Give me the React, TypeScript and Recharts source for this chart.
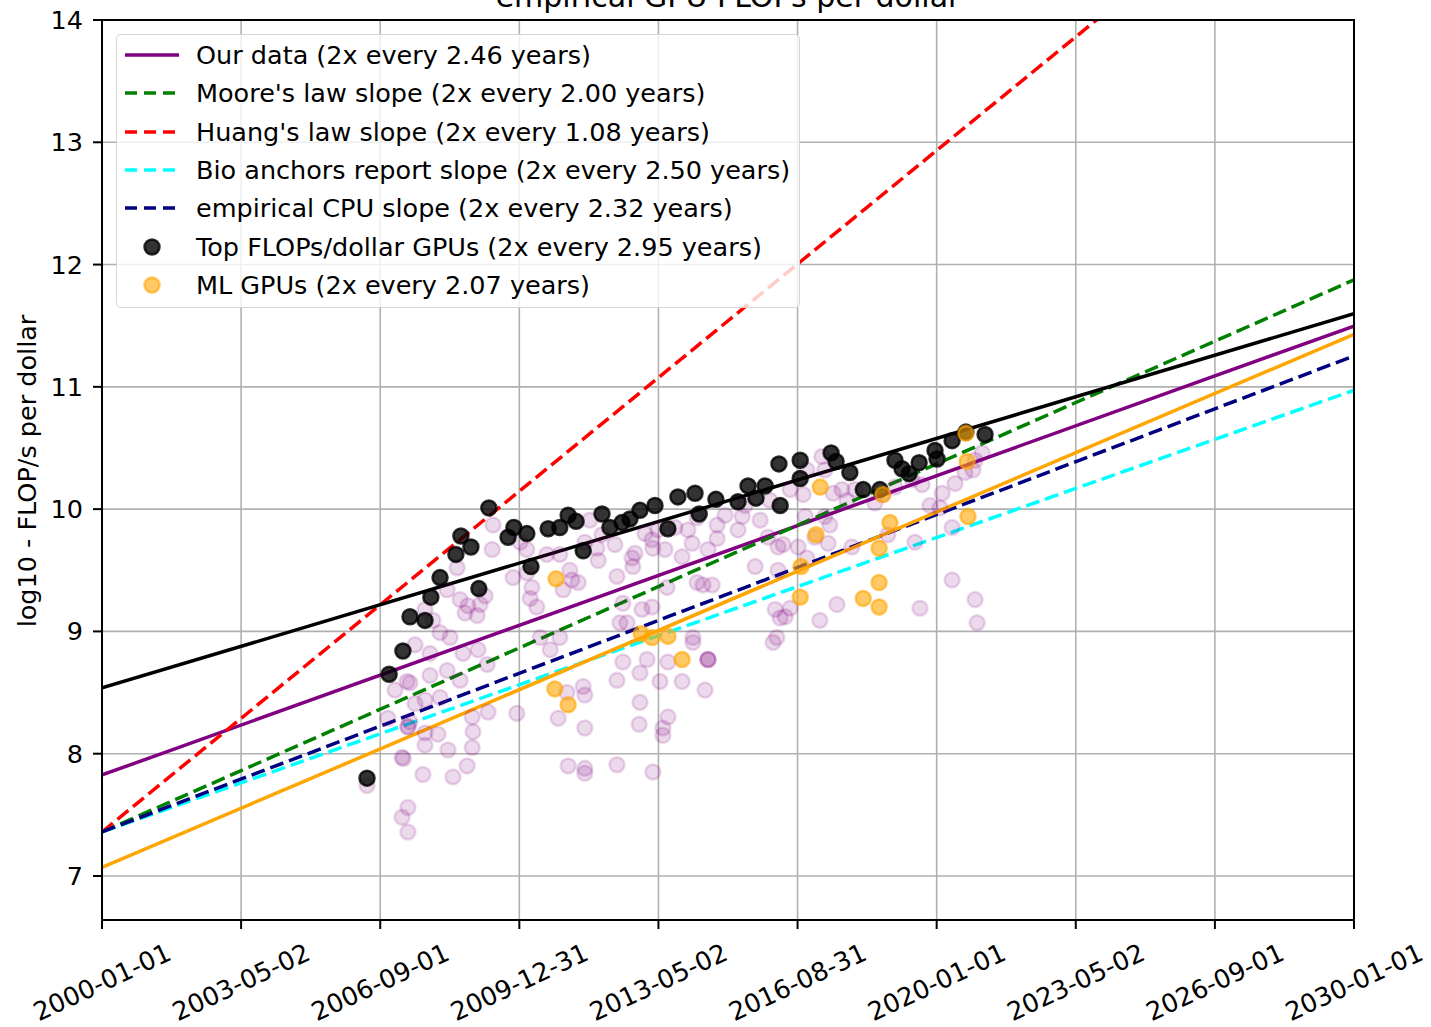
import { ComposedChart, Line, Scatter, XAxis, YAxis, CartesianGrid } from 'recharts';

// x values are decimal years, y values are log10(FLOP/s per dollar)
const xTicks = [2000, 2003.333, 2006.667, 2010, 2013.333, 2016.667, 2020, 2023.333, 2026.667, 2030];
const xTickLabels = [
  '2000-01-01', '2003-05-02', '2006-09-01', '2009-12-31', '2013-05-02',
  '2016-08-31', '2020-01-01', '2023-05-02', '2026-09-01', '2030-01-01',
];
const yTicks = [7, 8, 9, 10, 11, 12, 13, 14];

// trend lines: value at 2000 and at 2030
const ourDataFit = [[2000, 7.826], [2030, 11.497]];
const mooreFit = [[2000, 7.36], [2030, 11.875]];
const huangFit = [[2000, 7.36], [2030, 15.72]];
const bioAnchorsFit = [[2000, 7.36], [2030, 10.972]];
const cpuFit = [[2000, 7.36], [2030, 11.253]];
const topGpuFit = [[2000, 8.538], [2030, 11.599]];
const mlGpuFit = [[2000, 7.07], [2030, 11.43]];

// all GPUs (our data)
const allGpus = [
  [2006.35, 7.74], [2007.33, 7.36], [2007.19, 7.48], [2007.33, 7.56], [2007.19, 7.97], [2007.22, 7.96],
  [2007.69, 7.83], [2008.41, 7.81], [2008.75, 7.9], [2008.29, 8.03], [2008.87, 8.05], [2008.05, 8.16],
  [2007.74, 8.07], [2007.74, 8.17], [2008.89, 8.18], [2008.87, 8.3], [2009.25, 8.34], [2009.94, 8.33],
  [2010.93, 8.29], [2006.85, 8.29], [2007.38, 8.26], [2007.33, 8.22], [2007.33, 8.22], [2007.74, 8.44],
  [2008.1, 8.46], [2007.5, 8.41], [2007.38, 8.58], [2007.86, 8.64], [2008.27, 8.68], [2008.58, 8.6],
  [2009.23, 8.73], [2008.65, 8.82], [2007.31, 8.59], [2007.02, 8.52],
  [2009.37, 9.87], [2009.35, 9.67], [2008.51, 9.52], [2008.27, 9.34], [2008.58, 9.26], [2008.77, 9.21],
  [2009.06, 9.22], [2008.7, 9.15], [2008.99, 9.13], [2008.1, 8.99], [2008.34, 8.95], [2007.5, 8.89],
  [2007.86, 8.82], [2009.01, 8.85], [2009.85, 9.44], [2010.18, 9.48], [2010.3, 9.36], [2010.26, 9.27],
  [2010.42, 9.2], [2010.18, 9.67], [2010.02, 9.73], [2010.66, 9.63], [2010.97, 9.63], [2010.5, 8.95],
  [2010.74, 8.85], [2010.97, 8.95], [2011.05, 9.34], [2007.74, 9.18], [2007.93, 9.09], [2009.18, 9.29],
  [2011.21, 9.5], [2011.26, 9.42], [2011.41, 9.4], [2011.89, 9.58], [2012.34, 9.45], [2012.7, 9.6],
  [2012.72, 9.53], [2012.77, 9.64], [2013.18, 9.75], [2013.2, 9.68], [2013.49, 9.67], [2013.9, 9.61],
  [2014.14, 9.72], [2014.52, 9.67], [2014.74, 9.76], [2015.24, 9.83], [2015.34, 9.94], [2015.65, 9.53],
  [2015.96, 9.77], [2016.2, 9.69], [2016.37, 9.12], [2016.13, 9.18], [2014.26, 9.4], [2014.4, 9.38],
  [2014.62, 9.38], [2013.54, 9.36], [2012.48, 9.23], [2012.94, 9.18], [2013.18, 9.2], [2012.41, 9.07],
  [2012.58, 9.07], [2014.16, 8.95], [2014.74, 9.87], [2014.26, 9.93], [2013.73, 9.85], [2014.04, 9.83],
  [2013.32, 9.83], [2013.01, 9.8], [2011.86, 9.68], [2011.98, 9.79], [2011.57, 9.73],
  [2012.48, 8.75], [2012.89, 8.66], [2013.06, 8.77], [2013.56, 8.75], [2013.37, 8.59], [2013.9, 8.59],
  [2014.45, 8.52], [2012.34, 8.6], [2011.53, 8.55], [2011.57, 8.48], [2011.14, 8.5], [2012.89, 8.42],
  [2011.57, 8.21], [2012.87, 8.24], [2013.56, 8.3], [2013.44, 8.21], [2013.44, 8.15], [2011.17, 7.9],
  [2011.57, 7.88], [2011.57, 7.84], [2012.34, 7.91], [2013.2, 7.85], [2016.08, 8.91], [2014.16, 8.91],
  [2014.52, 8.77], [2014.52, 8.77], [2014.52, 8.77],
  [2017.25, 10.43], [2017.32, 10.32], [2016.89, 10.32], [2016.49, 10.16], [2016.8, 10.12], [2017.52, 10.13],
  [2017.73, 10.16], [2017.85, 10.07], [2018.04, 10.16], [2018.52, 10.05], [2018.71, 10.12], [2019.0, 10.18],
  [2019.41, 10.24], [2019.65, 10.2], [2020.13, 10.13], [2020.44, 10.21], [2020.87, 10.32], [2021.09, 10.46],
  [2020.92, 10.4], [2020.68, 10.3], [2019.84, 10.03], [2020.08, 10.01], [2020.37, 9.85], [2017.32, 9.94],
  [2017.44, 9.87], [2016.85, 9.94], [2016.32, 9.71], [2016.68, 9.69], [2017.08, 9.77], [2017.4, 9.72],
  [2017.97, 9.69], [2018.83, 9.79], [2019.48, 9.73], [2020.37, 9.42], [2017.61, 9.22], [2019.6, 9.19],
  [2020.92, 9.26], [2016.2, 9.5], [2016.89, 9.6], [2017.2, 9.09], [2016.25, 9.11], [2016.17, 8.95],
  [2020.97, 9.07], [2016.49, 9.19],
  [2014.93, 9.95], [2015.41, 10.03], [2015.77, 9.91], [2016.01, 10.07], [2011.69, 9.91], [2012.29, 9.71],
];

// top FLOPs/dollar GPUs
const topGpus = [
  [2006.35, 7.8], [2006.88, 8.65], [2007.21, 8.84], [2007.38, 9.12], [2007.74, 9.09], [2007.88, 9.28],
  [2008.1, 9.44], [2008.48, 9.63], [2008.6, 9.78], [2008.84, 9.69], [2009.03, 9.35], [2009.27, 10.01],
  [2009.73, 9.77], [2009.87, 9.85], [2010.18, 9.8], [2010.28, 9.53], [2010.69, 9.84], [2010.97, 9.85],
  [2011.17, 9.95], [2011.36, 9.9], [2011.53, 9.66], [2011.98, 9.96], [2012.17, 9.85], [2012.46, 9.89],
  [2012.65, 9.92], [2012.89, 9.99], [2013.25, 10.03], [2013.56, 9.84], [2013.8, 10.1], [2014.21, 10.13],
  [2014.31, 9.96], [2014.71, 10.08], [2015.24, 10.06], [2015.48, 10.19], [2015.67, 10.09], [2015.89, 10.19],
  [2016.22, 10.37], [2016.25, 10.03], [2016.73, 10.4], [2016.73, 10.25], [2017.47, 10.46], [2017.59, 10.39],
  [2017.92, 10.3], [2018.24, 10.16], [2018.64, 10.16], [2019.0, 10.4], [2019.17, 10.33], [2019.34, 10.29],
  [2019.58, 10.38], [2019.96, 10.48], [2020.01, 10.41], [2020.37, 10.56], [2020.7, 10.63], [2021.16, 10.61],
];

// ML GPUs
const mlGpus = [
  [2010.88, 9.43], [2010.85, 8.53], [2011.17, 8.4], [2012.92, 8.98], [2013.18, 8.95], [2013.56, 8.96],
  [2013.9, 8.77], [2016.75, 9.53], [2016.73, 9.28], [2017.11, 9.79], [2017.21, 10.18], [2018.24, 9.27],
  [2018.62, 9.4], [2018.62, 9.2], [2018.62, 9.68], [2018.71, 10.12], [2018.88, 9.89], [2020.7, 10.62],
  [2020.73, 10.39], [2020.75, 9.94],
];

const toPoints = (arr: number[][]) => arr.map(([x, y]) => ({ x, y }));

const fits = [
  { name: 'Our data (2x every 2.46 years)', data: ourDataFit, color: '#800080', dash: undefined },
  { name: "Moore's law slope (2x every 2.00 years)", data: mooreFit, color: '#008000', dash: '14 6' },
  { name: "Huang's law slope (2x every 1.08 years)", data: huangFit, color: '#ff0000', dash: '14 6' },
  { name: 'Bio anchors report slope (2x every 2.50 years)', data: bioAnchorsFit, color: '#00ffff', dash: '14 6' },
  { name: 'empirical CPU slope (2x every 2.32 years)', data: cpuFit, color: '#000080', dash: '14 6' },
];

const FONT = "'DejaVu Sans', sans-serif";
const FS = 25.5;

const XTick = (props: any) => {
  const { x, y, payload } = props;
  const i = xTicks.findIndex((t) => Math.abs(t - payload.value) < 0.01);
  const cy = y + 53;
  return (
    <text
      x={x}
      y={cy}
      textAnchor="middle"
      dominantBaseline="central"
      transform={`rotate(-25, ${x}, ${cy})`}
      fontSize={FS}
      fontFamily={FONT}
      fill="#000"
    >
      {xTickLabels[i]}
    </text>
  );
};

const dot = (fill: string, opacity: number) => (p: any) => (
  <circle
    cx={p.cx}
    cy={p.cy}
    r={7.5}
    fill={fill}
    fillOpacity={opacity}
    stroke={fill}
    strokeOpacity={opacity}
    strokeWidth={2.5}
  />
);

const legendItems = [
  ...fits.map((f) => ({ name: f.name, color: f.color, dash: f.dash, kind: 'line', opacity: 1 })),
  { name: 'Top FLOPs/dollar GPUs (2x every 2.95 years)', color: '#000', dash: undefined, kind: 'dot', opacity: 0.8 },
  { name: 'ML GPUs (2x every 2.07 years)', color: '#ffa500', dash: undefined, kind: 'dot', opacity: 0.6 },
];

export default function App() {
  return (
    <div style={{ position: 'absolute', left: 0, top: 0, width: 1431, height: 1027, fontFamily: FONT, overflow: 'hidden', background: '#fff' }}>
      <ComposedChart width={1431} height={1027} margin={{ top: 20, right: 77, left: 0, bottom: 0 }}>
        <CartesianGrid stroke="#b0b0b0" strokeWidth={1.6} />
        <XAxis
          type="number"
          dataKey="x"
          domain={[2000, 2030]}
          ticks={xTicks}
          allowDataOverflow
          height={107}
          axisLine={false}
          tickLine={{ stroke: '#000', strokeWidth: 2 }}
          tickSize={9}
          tickMargin={0}
          tick={<XTick />}
        />
        <YAxis
          type="number"
          dataKey="y"
          domain={[6.64, 14]}
          ticks={yTicks}
          allowDataOverflow
          width={102}
          axisLine={false}
          tickLine={{ stroke: '#000', strokeWidth: 2 }}
          tickSize={9}
          tickMargin={10}
          tick={{ fill: '#000', fontSize: FS, fontFamily: FONT }}
        />
        <Scatter data={toPoints(allGpus)} shape={dot('#800080', 0.15)} isAnimationActive={false} />
        <Scatter data={toPoints(topGpus)} shape={dot('#000000', 0.8)} isAnimationActive={false} />
        <Scatter data={toPoints(mlGpus)} shape={dot('#ffa500', 0.6)} isAnimationActive={false} />
        {fits.map((f) => (
          <Line
            key={f.name}
            data={toPoints(f.data)}
            dataKey="y"
            stroke={f.color}
            strokeWidth={3.5}
            strokeDasharray={f.dash}
            dot={false}
            activeDot={false}
            isAnimationActive={false}
          />
        ))}
        <Line data={toPoints(topGpuFit)} dataKey="y" stroke="#000" strokeWidth={3.5} dot={false} activeDot={false} isAnimationActive={false} />
        <Line data={toPoints(mlGpuFit)} dataKey="y" stroke="#ffa500" strokeWidth={3.5} dot={false} activeDot={false} isAnimationActive={false} />
      </ComposedChart>

      {/* axes frame */}
      <div style={{ position: 'absolute', left: 101, top: 19, width: 1254, height: 902, boxSizing: 'border-box', border: '2px solid #000', pointerEvents: 'none' }} />

      {/* title, mostly cut off at the top like the source */}
      <div style={{ position: 'absolute', left: 728, top: -18, transform: 'translateX(-50%)', fontSize: 30, lineHeight: '30px', whiteSpace: 'nowrap', color: '#000' }}>
        empirical GPU FLOPs per dollar
      </div>

      {/* y axis label */}
      <div style={{ position: 'absolute', left: 27, top: 471, transform: 'translate(-50%, -50%) rotate(-90deg)', fontSize: FS, whiteSpace: 'nowrap', color: '#000' }}>
        log10 - FLOP/s per dollar
      </div>

      {/* legend */}
      <div
        style={{
          position: 'absolute', left: 116, top: 34, width: 684, height: 274, boxSizing: 'border-box',
          border: '1.6px solid rgba(204,204,204,0.8)', borderRadius: 5, background: 'rgba(255,255,255,0.8)',
        }}
      >
        {legendItems.map((it, i) => (
          <div key={it.name} style={{ position: 'absolute', left: 0, top: 1 + i * 38.3, height: 38, display: 'flex', alignItems: 'center' }}>
            <svg width={60} height={20} style={{ marginLeft: 7 }}>
              {it.kind === 'line' ? (
                <line x1={1} y1={10} x2={55} y2={10} stroke={it.color} strokeWidth={3.5} strokeDasharray={it.dash ? '12 7' : undefined} />
              ) : (
                <circle cx={28} cy={10} r={7.5} fill={it.color} fillOpacity={it.opacity} stroke={it.color} strokeOpacity={it.opacity} strokeWidth={2.5} />
              )}
            </svg>
            <span style={{ marginLeft: 12, fontSize: FS, color: '#000', whiteSpace: 'nowrap' }}>{it.name}</span>
          </div>
        ))}
      </div>
    </div>
  );
}
